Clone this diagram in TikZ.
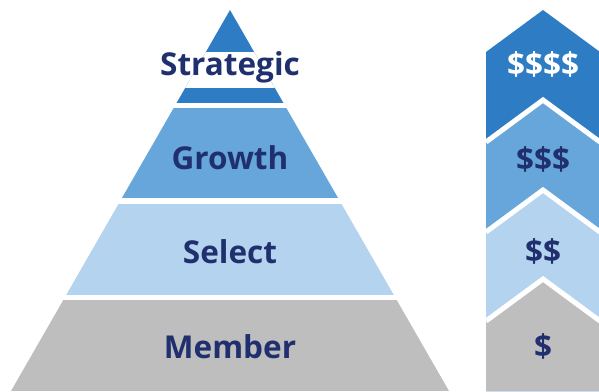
\documentclass[tikz,border=0pt]{standalone}
\usepackage{fontspec}
\setmainfont{Open Sans}
\definecolor{navy}{RGB}{32,48,110}
\definecolor{cA}{RGB}{46,125,196}
\definecolor{cB}{RGB}{102,166,218}
\definecolor{cC}{RGB}{180,211,238}
\definecolor{cD}{RGB}{190,190,190}
\begin{document}
\begin{tikzpicture}[x=1pt,y=-1pt,
  lbl/.style={font=\fontsize{31.5}{32}\selectfont\bfseries, text=navy, inner sep=0pt, anchor=base},
  gapline/.style={white, line width=5pt}]
\useasboundingbox (0,0) rectangle (599,391);
\clip (0,0) rectangle (599,391);
% pyramid
\begin{scope}
  \clip (230,10) -- (11,391) -- (449,391) -- cycle;
  \fill[cA] (0,10) rectangle (460,103);
  \fill[cB] (0,108) rectangle (460,198);
  \fill[cC] (0,204) rectangle (460,295);
  \fill[cD] (0,300) rectangle (460,391);
  \fill[white] (0,52) rectangle (460,88);
\end{scope}
% chevrons
\fill[cA] (543,10) -- (486,52) -- (486,391) -- (600,391) -- (600,52) -- cycle;
\fill[cB] (543,100) -- (486,142) -- (486,391) -- (600,391) -- (600,142) -- cycle;
\draw[gapline] (486,142) -- (543,100) -- (600,142);
\fill[cC] (543,190) -- (486,232) -- (486,391) -- (600,391) -- (600,232) -- cycle;
\draw[gapline] (486,232) -- (543,190) -- (600,232);
\fill[cD] (543,279) -- (486,321) -- (486,391) -- (600,391) -- (600,321) -- cycle;
\draw[gapline] (486,321) -- (543,279) -- (600,321);
% labels
\node[lbl] (strategic) at (230,75) {Strategic};
\node[lbl] (growth) at (230,169) {Growth};
\node[lbl] (select) at (230,263) {Select};
\node[lbl] (member) at (230,358) {Member};
\node[lbl, text=white] (d4) at (543,75) {\$\$\$\$};
\node[lbl] (d3) at (543,170) {\$\$\$};
\node[lbl] (d2) at (543,262) {\$\$};
\node[lbl] (d1) at (543,357) {\$};
\end{tikzpicture}
\end{document}
